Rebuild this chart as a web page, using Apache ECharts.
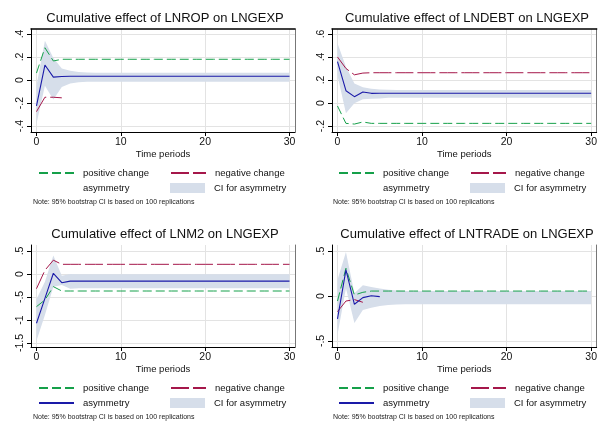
<!DOCTYPE html>
<html><head><meta charset="utf-8">
<script src="https://cdn.jsdelivr.net/npm/echarts@6/dist/echarts.min.js"></script>
<style>html,body{margin:0;padding:0;background:#fff}#c{width:600px;height:424px}</style>
</head><body><div id="c"></div>
<script>
// ---- data ----
const periods = [0,1,2,3,4,5,6,7,8,9,10,11,12,13,14,15,16,17,18,19,20,21,22,23,24,25,26,27,28,29,30];

const titles = [
  'Cumulative effect of LNROP on LNGEXP',
  'Cumulative effect of LNDEBT on LNGEXP',
  'Cumulative effect of LNM2 on LNGEXP',
  'Cumulative effect of LNTRADE on LNGEXP'
];
const noteText = 'Note: 95% bootstrap CI is based on 100 replications';
const legendNames = ['positive change', 'negative change', 'asymmetry', 'CI for asymmetry'];
const xTicks = [0, 10, 20, 30];

// Panel 1: LNROP
const pos1 = [0.06,0.28,0.165,0.18,0.18,0.18,0.18,0.18,0.18,0.18,0.18,0.18,0.18,0.18,0.18,0.18,0.18,0.18,0.18,0.18,0.18,0.18,0.18,0.18,0.18,0.18,0.18,0.18,0.18,0.18,0.18];
const neg1 = [-0.275,-0.15,-0.15,-0.155,null,null,null,null,null,null,null,null,null,null,null,null,null,null,null,null,null,null,null,null,null,null,null,null,null,null,null];
const asym1 = [-0.225,0.13,0.025,0.03,0.032,0.032,0.032,0.032,0.032,0.032,0.032,0.032,0.032,0.032,0.032,0.032,0.032,0.032,0.032,0.032,0.032,0.032,0.032,0.032,0.032,0.032,0.032,0.032,0.032,0.032,0.032];
const lo1 = [-0.38,-0.05,-0.17,-0.06,-0.03,-0.02,-0.015,-0.015,-0.015,-0.015,-0.015,-0.015,-0.015,-0.015,-0.015,-0.015,-0.015,-0.015,-0.015,-0.015,-0.015,-0.015,-0.015,-0.015,-0.015,-0.015,-0.015,-0.015,-0.015,-0.015,-0.015];
const hi1 = [-0.05,0.34,0.19,0.10,0.08,0.07,0.065,0.063,0.063,0.063,0.063,0.063,0.063,0.063,0.063,0.063,0.063,0.063,0.063,0.063,0.063,0.063,0.063,0.063,0.063,0.063,0.063,0.063,0.063,0.063,0.063];
const yTicks1 = [-0.4, -0.2, 0, 0.2, 0.4];

// Panel 2: LNDEBT
const pos2 = [-0.026,-0.177,-0.183,-0.165,-0.177,-0.177,-0.177,-0.177,-0.177,-0.177,-0.177,-0.177,-0.177,-0.177,-0.177,-0.177,-0.177,-0.177,-0.177,-0.177,-0.177,-0.177,-0.177,-0.177,-0.177,-0.177,-0.177,-0.177,-0.177,-0.177,-0.177];
const neg2 = [0.40,0.30,0.245,0.26,0.263,0.263,0.263,0.263,0.263,0.263,0.263,0.263,0.263,0.263,0.263,0.263,0.263,0.263,0.263,0.263,0.263,0.263,0.263,0.263,0.263,0.263,0.263,0.263,0.263,0.263,0.263];
const asym2 = [0.36,0.107,0.055,0.096,0.084,0.085,0.085,0.085,0.085,0.085,0.085,0.085,0.085,0.085,0.085,0.085,0.085,0.085,0.085,0.085,0.085,0.085,0.085,0.085,0.085,0.085,0.085,0.085,0.085,0.085,0.085];
const lo2 = [0.24,-0.09,-0.003,0.032,0.037,0.04,0.045,0.046,0.046,0.046,0.046,0.046,0.046,0.046,0.046,0.046,0.046,0.046,0.046,0.046,0.046,0.046,0.046,0.046,0.046,0.046,0.046,0.046,0.046,0.046,0.046];
const hi2 = [0.52,0.316,0.17,0.136,0.124,0.118,0.115,0.113,0.113,0.113,0.113,0.113,0.113,0.113,0.113,0.113,0.113,0.113,0.113,0.113,0.113,0.113,0.113,0.113,0.113,0.113,0.113,0.113,0.113,0.113,0.113];
const yTicks2 = [-0.2, 0, 0.2, 0.4, 0.6];

// Panel 3: LNM2
const pos3 = [-0.71,-0.565,-0.275,-0.37,-0.37,-0.37,-0.37,-0.37,-0.37,-0.37,-0.37,-0.37,-0.37,-0.37,-0.37,-0.37,-0.37,-0.37,-0.37,-0.37,-0.37,-0.37,-0.37,-0.37,-0.37,-0.37,-0.37,-0.37,-0.37,-0.37,-0.37];
const neg3 = [-0.32,0.08,0.30,0.21,0.21,0.21,0.21,0.21,0.21,0.21,0.21,0.21,0.21,0.21,0.21,0.21,0.21,0.21,0.21,0.21,0.21,0.21,0.21,0.21,0.21,0.21,0.21,0.21,0.21,0.21,0.21];
const asym3 = [-1.07,-0.53,0.015,-0.19,-0.155,-0.155,-0.155,-0.155,-0.155,-0.155,-0.155,-0.155,-0.155,-0.155,-0.155,-0.155,-0.155,-0.155,-0.155,-0.155,-0.155,-0.155,-0.155,-0.155,-0.155,-0.155,-0.155,-0.155,-0.155,-0.155,-0.155];
const lo3 = [-1.45,-0.89,-0.275,-0.24,-0.32,-0.31,-0.31,-0.31,-0.31,-0.31,-0.31,-0.31,-0.31,-0.31,-0.31,-0.31,-0.31,-0.31,-0.31,-0.31,-0.31,-0.31,-0.31,-0.31,-0.31,-0.31,-0.31,-0.31,-0.31,-0.31,-0.31];
const hi3 = [-0.55,-0.17,0.40,-0.04,0.0,-0.005,-0.005,-0.005,-0.005,-0.005,-0.005,-0.005,-0.005,-0.005,-0.005,-0.005,-0.005,-0.005,-0.005,-0.005,-0.005,-0.005,-0.005,-0.005,-0.005,-0.005,-0.005,-0.005,-0.005,-0.005,-0.005];
const yTicks3 = [-1.5, -1, -0.5, 0, 0.5];

// Panel 4: LNTRADE
const pos4 = [-0.056,0.308,0.011,0.041,0.055,0.055,0.055,0.055,0.055,0.055,0.055,0.055,0.055,0.055,0.055,0.055,0.055,0.055,0.055,0.055,0.055,0.055,0.055,0.055,0.055,0.055,0.055,0.055,0.055,0.055,0.055];
const neg4 = [-0.174,-0.056,-0.04,-0.07,null,null,null,null,null,null,null,null,null,null,null,null,null,null,null,null,null,null,null,null,null,null,null,null,null,null,null];
const asym4 = [-0.255,0.29,-0.092,-0.018,0.003,-0.007,null,null,null,null,null,null,null,null,null,null,null,null,null,null,null,null,null,null,null,null,null,null,null,null,null];
const lo4 = [-0.43,0.085,-0.30,-0.155,-0.13,-0.11,-0.10,-0.095,-0.092,-0.092,-0.092,-0.092,-0.092,-0.092,-0.092,-0.092,-0.092,-0.092,-0.092,-0.092,-0.092,-0.092,-0.092,-0.092,-0.092,-0.092,-0.092,-0.092,-0.092,-0.092,-0.092];
const hi4 = [0.18,0.49,0.03,0.12,0.10,0.082,0.07,0.06,0.055,0.055,0.055,0.055,0.055,0.055,0.055,0.055,0.055,0.055,0.055,0.055,0.055,0.055,0.055,0.055,0.055,0.055,0.055,0.055,0.055,0.055,0.055];
const yTicks4 = [-0.5, 0, 0.5];

// ---- layout / style ----
const FONT = 'Liberation Sans, Arial, sans-serif';
const C_POS = '#15a04a', C_NEG = '#a5174a', C_ASYM = '#1a1aa8', C_CI = '#d6deea', C_GRID = '#e3e3e3';
const panels = [
  {pos:pos1,neg:neg1,asym:asym1,lo:lo1,hi:hi1,ticks:yTicks1,yMin:-0.452,yMax:0.443,ox:0,oy:0,grid:[31,29,264,103],topLine:true,asymIcon:false,tx:165,ty:20},
  {pos:pos2,neg:neg2,asym:asym2,lo:lo2,hi:hi2,ticks:yTicks2,yMin:-0.252,yMax:0.643,ox:300,oy:0,grid:[332,29,265,103],topLine:true,asymIcon:false,tx:467,ty:20},
  {pos:pos3,neg:neg3,asym:asym3,lo:lo3,hi:hi3,ticks:yTicks3,yMin:-1.587,yMax:0.630,ox:0,oy:215,grid:[31,245,264,102],topLine:false,asymIcon:true,tx:165,ty:236},
  {pos:pos4,neg:neg4,asym:asym4,lo:lo4,hi:hi4,ticks:yTicks4,yMin:-0.567,yMax:0.567,ox:300,oy:215,grid:[332,245,265,102],topLine:false,asymIcon:true,tx:467,ty:236}
];

function stataFmt(v) {
  if (v === 0) return '0';
  let s = String(Math.round(v * 1000) / 1000);
  return s.replace(/^(-?)0\./, '$1.');
}
const pairs = arr => periods.map((t, k) => [t, arr[k]]);

const option = {
  backgroundColor: '#fff',
  animation: false,
  title: [], grid: [], xAxis: [], yAxis: [], series: [], legend: []
};

panels.forEach((p, i) => {
  const [gl, gt, gw, gh] = p.grid;
  option.title.push({
    text: titles[i], left: p.tx, top: p.ty - 8, textAlign: 'center', padding: 0,
    textStyle: {fontSize: 13, fontWeight: 'normal', fontFamily: FONT, color: '#111'}
  });
  option.title.push({
    text: noteText, left: p.ox + 33, top: p.oy + 198.5, padding: 0,
    textStyle: {fontSize: 7, fontWeight: 'normal', fontFamily: FONT, color: '#222'}
  });
  option.grid.push({left: gl, top: gt, width: gw, height: gh, containLabel: false, show: false});
  option.xAxis.push({
    type: 'value', gridIndex: i, min: -0.65, max: 30.65, position: 'bottom',
    name: 'Time periods', nameLocation: 'middle', nameGap: 15,
    nameTextStyle: {fontSize: 9.5, fontFamily: FONT, color: '#111'},
    axisLine: {show: true, onZero: false, lineStyle: {color: '#000', width: 1}},
    axisTick: {show: true, length: 4, customValues: xTicks, lineStyle: {color: '#000'}},
    axisLabel: {customValues: xTicks, fontSize: 10.5, fontFamily: FONT, color: '#111', margin: 5},
    splitLine: {show: true, lineStyle: {color: C_GRID, width: 1}}
  });
  option.xAxis.push({
    type: 'value', gridIndex: i, min: -0.65, max: 30.65, position: 'top',
    axisLine: {show: p.topLine, onZero: false, lineStyle: {color: '#000', width: 1.5}},
    axisTick: {show: false}, axisLabel: {show: false}, splitLine: {show: false}
  });
  option.yAxis.push({
    type: 'value', gridIndex: i, min: p.yMin, max: p.yMax, position: 'left',
    axisLine: {show: true, onZero: false, lineStyle: {color: '#000', width: 1}},
    axisTick: {show: true, length: 4, customValues: p.ticks, lineStyle: {color: '#000'}},
    axisLabel: {customValues: p.ticks, rotate: 90, fontSize: 10.5, fontFamily: FONT, color: '#111', margin: 5,
      formatter: v => stataFmt(v)},
    splitLine: {show: true, lineStyle: {color: C_GRID, width: 1}}
  });
  option.yAxis.push({
    type: 'value', gridIndex: i, min: p.yMin, max: p.yMax, position: 'right',
    axisLine: {show: true, onZero: false, lineStyle: {color: '#777', width: 1}},
    axisTick: {show: false}, axisLabel: {show: false}, splitLine: {show: false}
  });
  const xi = 2 * i, yi = 2 * i;
  // CI band: one polygon through the library's coordinate system
  option.series.push({
    type: 'custom', name: 'CI for asymmetry', xAxisIndex: xi, yAxisIndex: yi,
    data: periods.map((t, k) => [t, p.lo[k], p.hi[k]]),
    encode: {x: 0, y: [1, 2]}, silent: true, z: 1,
    itemStyle: {color: C_CI},
    renderItem: (params, api) => {
      if (params.dataIndex !== 0) return null;
      const upper = periods.map((t, k) => api.coord([t, p.hi[k]]));
      const lower = periods.map((t, k) => api.coord([t, p.lo[k]])).reverse();
      return {
        type: 'polygon',
        shape: {points: upper.concat(lower)},
        style: {fill: C_CI, stroke: null},
        clipPath: {type: 'rect', shape: {x: params.coordSys.x, y: params.coordSys.y, width: params.coordSys.width, height: params.coordSys.height}}
      };
    }
  });
  option.series.push({
    type: 'line', name: 'positive change', xAxisIndex: xi, yAxisIndex: yi, data: pairs(p.pos),
    symbol: 'none', showSymbol: false, lineStyle: {color: C_POS, width: 1, type: [9, 4]}, itemStyle: {color: C_POS}, z: 3
  });
  option.series.push({
    type: 'line', name: 'negative change', xAxisIndex: xi, yAxisIndex: yi, data: pairs(p.neg),
    symbol: 'none', showSymbol: false, lineStyle: {color: C_NEG, width: 1, type: [18, 4]}, itemStyle: {color: C_NEG}, z: 3
  });
  option.series.push({
    type: 'line', name: 'asymmetry', xAxisIndex: xi, yAxisIndex: yi, data: pairs(p.asym),
    symbol: 'none', showSymbol: false, lineStyle: {color: C_ASYM, width: 1.1}, itemStyle: {color: C_ASYM}, z: 4
  });
  const lx1 = p.ox + 38, lx2 = p.ox + 170, ly1 = p.oy + 168, ly2 = p.oy + 183;
  const base = {
    orient: 'horizontal', padding: 0, itemWidth: 35, itemHeight: 10, selectedMode: false,
    itemStyle: {opacity: 0},
    textStyle: {fontSize: 9.5, fontFamily: FONT, color: '#111', padding: [0, 0, 0, 4]}
  };
  option.legend.push(Object.assign({}, base, {left: lx1, top: ly1, data: [legendNames[0]]}));
  option.legend.push(Object.assign({}, base, {left: lx2, top: ly1, data: [legendNames[1]]}));
  option.legend.push(Object.assign({}, base, {left: lx1, top: ly2,
    data: [p.asymIcon ? {name: legendNames[2]} : {name: legendNames[2], itemStyle: {opacity: 0}, lineStyle: {opacity: 0}}]}));
  option.legend.push(Object.assign({}, base, {left: lx2, top: ly2,
    data: [{name: legendNames[3], icon: 'rect', itemStyle: {color: C_CI, opacity: 1}}]}));
});

const chart = echarts.init(document.getElementById('c'), null, {renderer: 'canvas'});
chart.setOption(option);
</script>
</body></html>
